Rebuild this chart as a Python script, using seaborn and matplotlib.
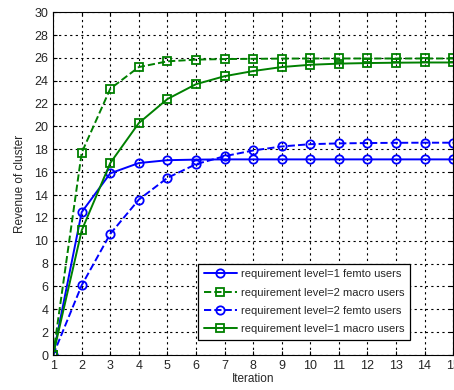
import matplotlib
matplotlib.use("Agg")
import matplotlib.pyplot as plt
import pandas as pd
import seaborn as sns

iterations = list(range(1, 16))
femto_l1 = [0, 12.5, 15.9, 16.8, 17.05, 17.1, 17.12, 17.12, 17.12, 17.12, 17.12, 17.12, 17.12, 17.12, 17.12]
macro_l2 = [0, 17.7, 23.3, 25.2, 25.7, 25.85, 25.9, 25.92, 25.94, 25.95, 25.95, 25.95, 25.95, 25.95, 25.95]
femto_l2 = [0, 6.1, 10.6, 13.6, 15.5, 16.7, 17.4, 17.9, 18.25, 18.45, 18.52, 18.55, 18.57, 18.58, 18.58]
macro_l1 = [0, 10.9, 16.8, 20.3, 22.4, 23.7, 24.4, 24.85, 25.2, 25.4, 25.5, 25.55, 25.58, 25.6, 25.6]

labels = [
    "requirement level=1 femto users",
    "requirement level=2 macro users",
    "requirement level=2 femto users",
    "requirement level=1 macro users",
]
series = [femto_l1, macro_l2, femto_l2, macro_l1]
colors = ["#0000ff", "#008000", "#0000ff", "#008000"]
markers = ["o", "s", "o", "s"]
styles = ["-", "--", "--", "-"]

sns.set_style("white")
plt.rcParams["font.family"] = ["Liberation Sans", "DejaVu Sans"]

fig = plt.figure(figsize=(4.54, 3.9), dpi=100)
ax = fig.add_axes([0.117, 0.0897, 0.881, 0.879])

for lab, vals, c, m, ls in zip(labels, series, colors, markers, styles):
    df = pd.DataFrame({"Iteration": iterations, "Revenue": vals})
    sns.lineplot(data=df, x="Iteration", y="Revenue", ax=ax, label=lab,
                 color=c, marker=m, linestyle=ls, linewidth=1.4,
                 markersize=6, markerfacecolor="none", markeredgecolor=c,
                 markeredgewidth=1.3)

ax.set_xlim(1, 15)
ax.set_ylim(0, 30)
ax.set_xticks(range(1, 16))
ax.set_yticks(range(0, 31, 2))
ax.grid(True, color="black", linestyle=(0, (2, 3)), linewidth=0.8)
for s in ax.spines.values():
    s.set_color("black")
    s.set_linewidth(0.8)
ax.tick_params(axis="both", labelsize=9, direction="in", length=3, color="black",
               top=True, right=True, bottom=True, left=True)
ax.set_xlabel("Iteration", fontsize=8.5, labelpad=1)
ax.set_ylabel("Revenue of cluster", fontsize=8.5, labelpad=6)

leg = ax.legend(loc="lower right", bbox_to_anchor=(0.907, 0.028), fontsize=8,
                frameon=True, fancybox=False, framealpha=1, edgecolor="black",
                handlelength=3.0, borderpad=0.5, labelspacing=0.75, handletextpad=0.4)
leg.get_frame().set_linewidth(0.9)

fig.savefig("out.png", dpi=100)
